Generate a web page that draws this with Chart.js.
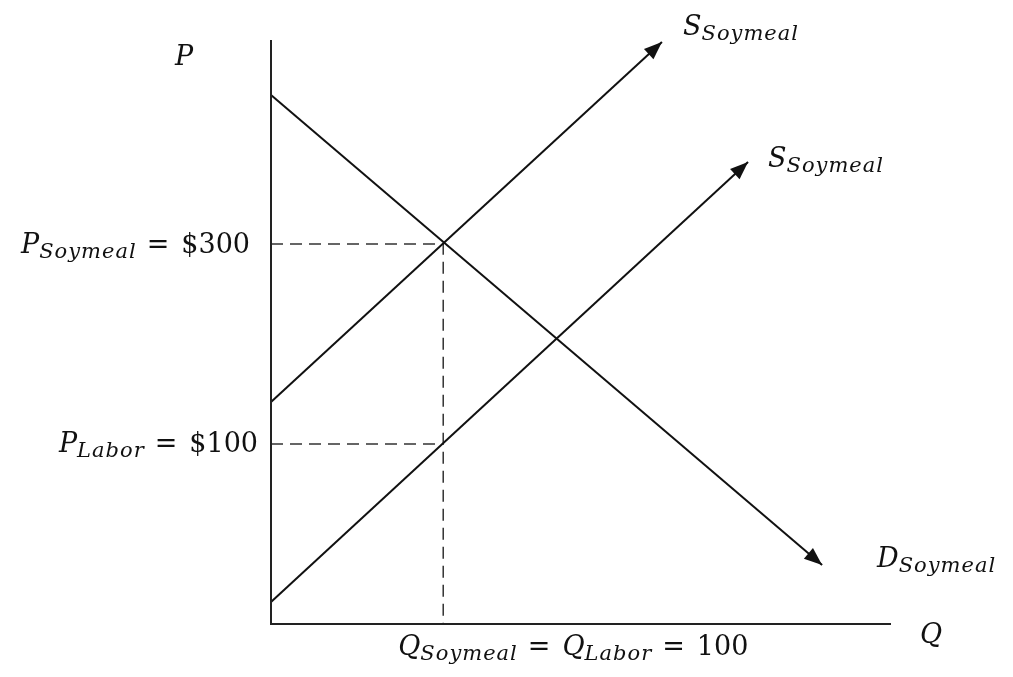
<!DOCTYPE html>
<html>
<head>
<meta charset="utf-8">
<script src="https://cdn.jsdelivr.net/npm/chart.js@4.4.1/dist/chart.umd.min.js"></script>
<style>
  html, body { margin: 0; padding: 0; background: #fff; }
  #wrap { width: 1013px; height: 677px; }
</style>
</head>
<body>
<div id="wrap"><canvas id="chart"></canvas></div>
<script>
// Curves in (Q, P) units (diagram is not to scale)
const demandQ = [0, 320];
const demandP = [449, -21];
const supplyQ = [0, 227];
const supplyP = [142, 502];
const supply2Q = [0, 277];
const supply2P = [-58, 382];

// Marked equilibrium values
const eqQ = 100;
const priceSoymeal = 300;
const priceLabor = 100;

// Axis range
const qRange = [0, 360];
const pRange = [-80, 504];

const pts = (xs, ys) => xs.map((x, i) => ({x: x, y: ys[i]}));

const ink = '#111';
const serif = '"DejaVu Serif", "Liberation Serif", serif';

// Draw a math-style label: [text, style] with style 'i' italic, 's' italic subscript, 'r' roman, 'g' gap (px)
function drawMath(ctx, parts, x, y, align) {
  const size = 27, subSize = 21;
  const fontOf = s => s === 'r' ? `${size}px ${serif}` : s === 's' ? `italic ${subSize}px ${serif}` : `italic ${size}px ${serif}`;
  const widthOf = p => {
    if (p[1] === 'g') return p[0];
    ctx.font = fontOf(p[1]);
    ctx.letterSpacing = p[1] === 's' ? '1px' : '0px';
    return ctx.measureText(p[0]).width;
  };
  let total = 0;
  parts.forEach(p => { total += widthOf(p); });
  let cx = align === 'right' ? x - total : align === 'center' ? x - total / 2 : x;
  ctx.textBaseline = 'alphabetic';
  ctx.textAlign = 'left';
  parts.forEach(p => {
    const w = widthOf(p);
    if (p[1] !== 'g') ctx.fillText(p[0], cx, p[1] === 's' ? y + 5 : y);
    cx += w;
  });
  ctx.letterSpacing = '0px';
}

function arrowHead(ctx, x0, y0, x1, y1) {
  const a = Math.atan2(y1 - y0, x1 - x0);
  const len = 18, half = 7;
  ctx.beginPath();
  ctx.moveTo(x1, y1);
  ctx.lineTo(x1 - len * Math.cos(a) + half * Math.sin(a), y1 - len * Math.sin(a) - half * Math.cos(a));
  ctx.lineTo(x1 - len * Math.cos(a) - half * Math.sin(a), y1 - len * Math.sin(a) + half * Math.cos(a));
  ctx.closePath();
  ctx.fill();
}

const diagramPlugin = {
  id: 'diagram',
  afterDatasetsDraw(chart) {
    const ctx = chart.ctx;
    const xs = chart.scales.x, ys = chart.scales.y;
    const area = chart.chartArea;
    const x0 = xs.getPixelForValue(qRange[0]);
    const y0 = ys.getPixelForValue(pRange[0]);
    ctx.save();
    ctx.strokeStyle = '#222';
    ctx.fillStyle = ink;
    ctx.lineWidth = 2;
    // axes
    ctx.beginPath();
    ctx.moveTo(x0, area.top);
    ctx.lineTo(x0, y0);
    ctx.lineTo(area.right, y0);
    ctx.stroke();
    // arrowheads at curve ends
    chart.data.datasets.forEach((ds, i) => {
      if (!ds.arrow) return;
      const meta = chart.getDatasetMeta(i);
      const a = meta.data[meta.data.length - 2], b = meta.data[meta.data.length - 1];
      arrowHead(ctx, a.x, a.y, b.x, b.y);
    });
    // labels
    const ex = xs.getPixelForValue(eqQ);
    const eq = [[10, 'g'], ['=', 'r'], [12, 'g']];
    drawMath(ctx, [['P', 'i'], ['Soymeal', 's'], ...eq, ['$' + priceSoymeal, 'r']], x0 - 21, ys.getPixelForValue(priceSoymeal) + 9, 'right');
    drawMath(ctx, [['P', 'i'], ['Labor', 's'], ...eq, ['$' + priceLabor, 'r']], x0 - 13, ys.getPixelForValue(priceLabor) + 8, 'right');
    drawMath(ctx, [['Q', 'i'], ['Soymeal', 's'], ...eq, ['Q', 'i'], ['Labor', 's'], ...eq, ['' + eqQ, 'r']], ex - 45, y0 + 31, 'left');
    drawMath(ctx, [['P', 'i']], 175, 65, 'left');
    drawMath(ctx, [['Q', 'i']], 920, 643, 'left');
    drawMath(ctx, [['S', 'i'], ['Soymeal', 's']], 683, 35, 'left');
    drawMath(ctx, [['S', 'i'], ['Soymeal', 's']], 768, 167, 'left');
    drawMath(ctx, [['D', 'i'], ['Soymeal', 's']], 877, 567, 'left');
    ctx.restore();
  }
};

const solid = {borderColor: ink, borderWidth: 2, pointRadius: 0, showLine: true, clip: false, arrow: true};
const dashed = {borderColor: '#333', borderWidth: 1.5, borderDash: [12, 7], pointRadius: 0, showLine: true, clip: false};

new Chart(document.getElementById('chart'), {
  type: 'scatter',
  data: {
    datasets: [
      Object.assign({label: 'D', data: pts(demandQ, demandP)}, solid),
      Object.assign({label: 'S1', data: pts(supplyQ, supplyP)}, solid),
      Object.assign({label: 'S2', data: pts(supply2Q, supply2P)}, solid),
      Object.assign({label: 'pS', data: pts([0, eqQ, eqQ], [priceSoymeal, priceSoymeal, pRange[0]])}, dashed),
      Object.assign({label: 'pL', data: pts([0, eqQ], [priceLabor, priceLabor])}, dashed)
    ]
  },
  options: {
    responsive: true,
    maintainAspectRatio: false,
    animation: false,
    layout: {padding: {left: 271, right: 122, top: 40, bottom: 53}},
    plugins: {legend: {display: false}, tooltip: {enabled: false}},
    scales: {
      x: {type: 'linear', min: qRange[0], max: qRange[1], display: false},
      y: {type: 'linear', min: pRange[0], max: pRange[1], display: false}
    }
  },
  plugins: [diagramPlugin]
});
</script>
</body>
</html>
